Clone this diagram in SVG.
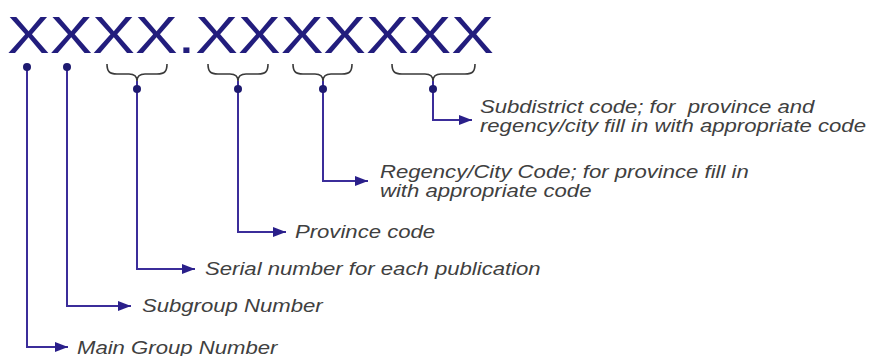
<svg xmlns="http://www.w3.org/2000/svg" width="870" height="356" viewBox="0 0 870 356">
  <style>
    .title { font-family: "Liberation Sans", Arial, sans-serif; font-size: 52px; fill: #221d7d; }
    .lbl { font-family: "Liberation Sans", Arial, sans-serif; font-size: 18px; font-style: italic; fill: #404040; }
    .conn { fill: none; stroke: #3b2d9a; stroke-width: 2; }
    .brace { fill: none; stroke: #3a3a3a; stroke-width: 1.6; }
    .dot { fill: #1e1a70; }
  </style>
  <defs>
    <marker id="arrow" markerUnits="userSpaceOnUse" markerWidth="14" markerHeight="12" refX="13" refY="6" orient="auto">
      <path d="M0,1 L13,6 L0,11 Z" fill="#2a1f8a"/>
    </marker>
  </defs>
  <rect width="870" height="356" fill="#ffffff"/>

  <g id="code-title">
    <text class="title" transform="scale(1.23 1)" x="5.7" y="53">XXXX.XXXXXXX</text>
  </g>

  <g id="braces">
    <path class="brace" d="M107,64 C107,71 109,74 117,74 L129,74 C134,74 137,76 137,81 C137,76 140,74 145,74 L157,74 C165,74 167,71 167,64"/>
    <path class="brace" d="M208,64 C208,71 210,74 218,74 L230,74 C235,74 238,76 238,81 C238,76 241,74 246,74 L258,74 C266,74 268,71 268,64"/>
    <path class="brace" d="M293,64 C293,71 295,74 303,74 L315,74 C320,74 323,76 323,81 C323,76 326,74 331,74 L342,74 C350,74 352,71 352,64"/>
    <path class="brace" d="M392,64 C392,71 394,74 402,74 L425,74 C430,74 433,76 433,81 C433,76 436,74 441,74 L465,74 C473,74 475,71 475,64"/>
  </g>

  <g id="connectors">
    <path class="conn" d="M27,67 L27,347 L68,347" marker-end="url(#arrow)"/>
    <path class="conn" d="M67,67 L67,306 L131,306" marker-end="url(#arrow)"/>
    <path class="conn" d="M137,81 L137,269 L195,269" marker-end="url(#arrow)"/>
    <path class="conn" d="M238,81 L238,232 L286,232" marker-end="url(#arrow)"/>
    <path class="conn" d="M323,81 L323,181 L368,181" marker-end="url(#arrow)"/>
    <path class="conn" d="M433,81 L433,120 L472,120" marker-end="url(#arrow)"/>
    <circle class="dot" cx="27" cy="67" r="4"/>
    <circle class="dot" cx="67" cy="67" r="4"/>
    <circle class="dot" cx="137" cy="89" r="4"/>
    <circle class="dot" cx="238" cy="89" r="4"/>
    <circle class="dot" cx="323" cy="89" r="4"/>
    <circle class="dot" cx="433" cy="89" r="4"/>
  </g>

  <g id="subdistrict">
    <text class="lbl" transform="scale(1.23 1)"><tspan x="390.2" y="113" xml:space="preserve">Subdistrict code; for  province and</tspan><tspan x="390.2" y="132">regency/city fill in with appropriate code</tspan></text>
  </g>
  <g id="regency">
    <text class="lbl" transform="scale(1.23 1)"><tspan x="308.9" y="178">Regency/City Code; for province fill in</tspan><tspan x="308.9" y="197">with appropriate code</tspan></text>
  </g>
  <g id="province">
    <text class="lbl" transform="scale(1.23 1)" x="239.8" y="238">Province code</text>
  </g>
  <g id="serial">
    <text class="lbl" transform="scale(1.23 1)" x="166.7" y="275">Serial number for each publication</text>
  </g>
  <g id="subgroup">
    <text class="lbl" transform="scale(1.23 1)" x="115.4" y="312">Subgroup Number</text>
  </g>
  <g id="main-group">
    <text class="lbl" transform="scale(1.23 1)" x="62.6" y="354">Main Group Number</text>
  </g>
</svg>
